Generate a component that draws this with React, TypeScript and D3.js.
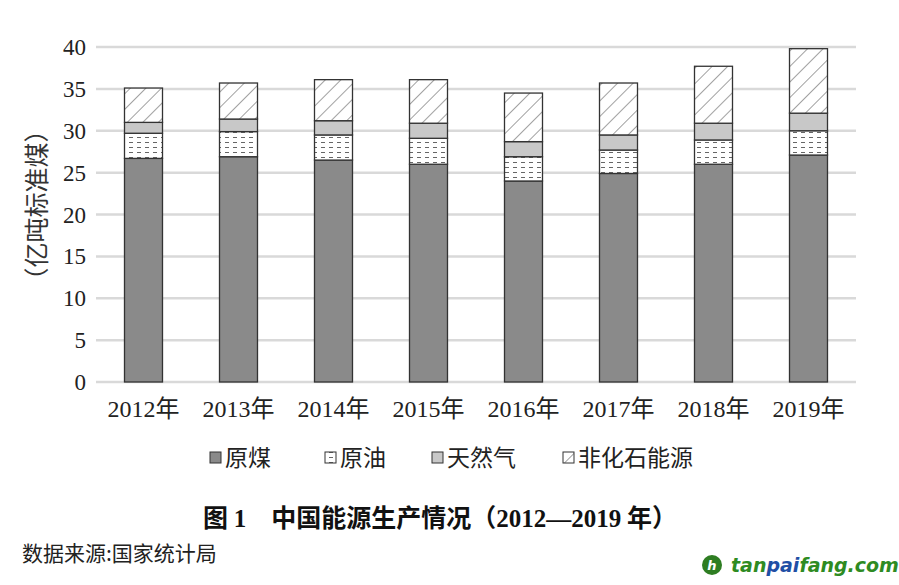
import React from "react";
import * as d3 from "d3";

const years = ["2012", "2013", "2014", "2015", "2016", "2017", "2018", "2019"];
const coal = [26.7, 26.9, 26.5, 26.0, 24.0, 24.9, 26.0, 27.1];
const oil = [3.0, 3.0, 3.0, 3.1, 2.9, 2.8, 2.9, 2.9];
const gas = [1.3, 1.5, 1.7, 1.8, 1.8, 1.8, 2.0, 2.1];
const nonFossil = [4.1, 4.3, 4.9, 5.2, 5.8, 6.2, 6.8, 7.7];
const seriesNames = ["原煤", "原油", "天然气", "非化石能源"];
const yTicks = [0, 5, 10, 15, 20, 25, 30, 35, 40];

const W = 899;
const H = 585;
const serif = "'Liberation Serif', 'Times New Roman', 'Noto Sans CJK SC', serif";
const cjk = "'Noto Sans CJK SC', sans-serif";

const fills = ["#8a8a8a", "url(#dashPat)", "#c8c8c8", "url(#hatchPat)"];

export default function App() {
  const x = d3.scaleBand<string>().domain(years).range([96, 856]).paddingInner(0.6).paddingOuter(0.3);
  const y = d3.scaleLinear().domain([0, 40]).range([382, 47]);

  const table = years.map((yr, i) => ({ year: yr, s0: coal[i], s1: oil[i], s2: gas[i], s3: nonFossil[i] }));
  const stack = d3.stack<any>().keys(["s0", "s1", "s2", "s3"])(table);

  const legendX = [210, 325, 432, 563];

  return (
    <svg width={W} height={H} style={{ position: "absolute", left: 0, top: 0, background: "#fff" }}>
      <defs>
        <pattern id="hatchPat" patternUnits="userSpaceOnUse" width="11" height="11" patternTransform="rotate(45)">
          <rect width="11" height="11" fill="#fff" />
          <line x1="0" y1="0" x2="0" y2="11" stroke="#444" strokeWidth="1" />
        </pattern>
        <pattern id="dashPat" patternUnits="userSpaceOnUse" width="8" height="5">
          <rect width="8" height="5" fill="#fff" />
          <line x1="1" y1="2.5" x2="5" y2="2.5" stroke="#666" strokeWidth="1" />
        </pattern>
      </defs>
      <rect width={W} height={H} fill="#fff" />

      {/* gridlines */}
      {yTicks.map((t) => (
        <line key={t} x1={96} x2={856} y1={y(t)} y2={y(t)} stroke="#d9d9d9" strokeWidth={2.5} />
      ))}
      {/* y tick labels */}
      {yTicks.map((t) => (
        <text key={"l" + t} x={86} y={y(t)} dy="0.35em" textAnchor="end" fontFamily={serif} fontSize={23} fill="#222">
          {t}
        </text>
      ))}
      {/* y axis title */}
      <text
        transform={`translate(37, ${205}) rotate(-90)`}
        textAnchor="middle"
        dy="0.35em"
        fontFamily={cjk}
        fontSize={25}
        fill="#333"
      >
        （亿吨标准煤）
      </text>

      {/* bars */}
      {stack.map((layer, li) =>
        layer.map((d, i) => (
          <rect
            key={li + "-" + i}
            x={x(years[i])}
            width={x.bandwidth()}
            y={y(d[1])}
            height={y(d[0]) - y(d[1])}
            fill={fills[li]}
            stroke="#333"
            strokeWidth={1.3}
          />
        ))
      )}

      {/* x labels */}
      {years.map((yr) => (
        <text key={"x" + yr} x={(x(yr) as number) + x.bandwidth() / 2} y={417} textAnchor="middle" fontFamily={serif} fontSize={24} fill="#222">
          {yr}
          <tspan fontFamily={cjk}>年</tspan>
        </text>
      ))}

      {/* legend */}
      {seriesNames.map((n, i) => (
        <g key={n}>
          <rect x={legendX[i]} y={452} width={11} height={11} fill={fills[i]} stroke="#333" strokeWidth={1} />
          <text x={legendX[i] + 15} y={466} fontFamily={cjk} fontSize={23} fill="#222">
            {n}
          </text>
        </g>
      ))}

      {/* title */}
      <text x={440} y={527} textAnchor="middle" fontFamily={cjk} fontWeight="bold" fontSize={25} fill="#111">
        图 <tspan fontFamily={serif}>1</tspan>　中国能源生产情况（<tspan fontFamily={serif}>2012—2019</tspan> 年）
      </text>

      {/* source */}
      <text x={22} y={561} fontFamily={cjk} fontSize={21} fill="#222">
        数据来源:国家统计局
      </text>

      {/* watermark */}
      <circle cx={712} cy={565} r={10} fill="#2e7d22" />
      <text x={712} y={570} textAnchor="middle" fontFamily="'DejaVu Sans', sans-serif" fontWeight="bold" fontStyle="italic" fontSize={13} fill="#fff">
        h
      </text>
      <text x={731} y={572} fontFamily="'DejaVu Sans', sans-serif" fontWeight="bold" fontStyle="italic" fontSize={19} fill="#2e8b22">
        tan<tspan fill="#1f4fa5">pai</tspan>fang.com
      </text>
    </svg>
  );
}
